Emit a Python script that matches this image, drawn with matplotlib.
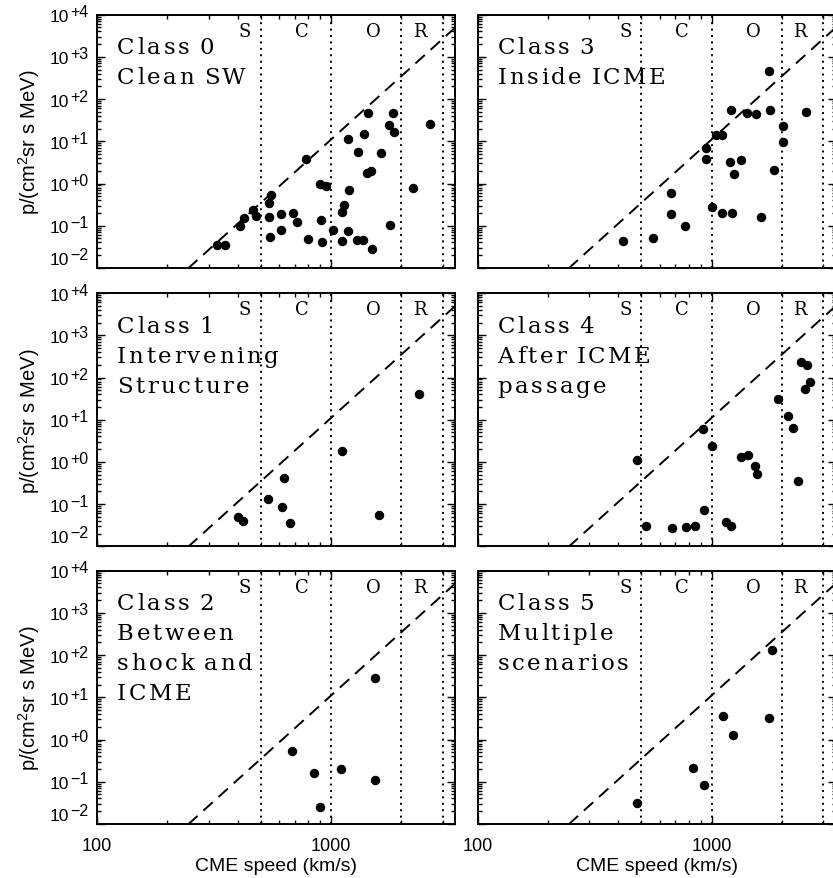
import numpy as np
import matplotlib
matplotlib.use("Agg")
import matplotlib.pyplot as plt
from matplotlib.ticker import FixedLocator, LogLocator, FuncFormatter, NullFormatter
from matplotlib.font_manager import FontProperties

plt.rcParams['font.family'] = 'Liberation Sans'
plt.rcParams['mathtext.fontset'] = 'custom'
plt.rcParams['mathtext.rm'] = 'Liberation Sans'
plt.rcParams['mathtext.it'] = 'Liberation Sans'
plt.rcParams['mathtext.default'] = 'regular'

# CME speed (km/s) and peak proton intensity, one pair of lists per class
v0 = [325, 351, 408, 426, 462, 478, 554, 545, 545, 548, 609, 613, 690, 718,
      782, 795, 898, 949, 906, 915, 1016, 1111, 1182, 1117, 1140, 1194, 1186,
      1309, 1295, 1374, 1496, 1384, 1421, 1487, 1443, 1636, 1771, 1836, 1859,
      1793, 2234, 2649]
p0 = [0.035, 0.035, 0.096, 0.151, 0.238, 0.169, 0.537, 0.347, 0.160, 0.054,
      0.080, 0.191, 0.20, 0.122, 3.82, 0.049, 0.98, 0.86, 0.133, 0.042, 0.077,
      0.043, 0.073, 0.21, 0.317, 0.72, 11.3, 5.5, 0.047, 0.046, 0.028, 14.9,
      1.78, 1.99, 46.7, 5.3, 24.3, 45.9, 16.3, 0.105, 0.774, 25.6]

v1 = [399, 422, 539, 628, 618, 669, 1118, 1599, 2372]
p1 = [0.050, 0.040, 0.132, 0.42, 0.087, 0.035, 1.84, 0.055, 40.0]

v2 = [681, 844, 900, 1100, 1546, 1542]
p2 = [0.525, 0.158, 0.025, 0.203, 28.2, 0.11]

v3 = [417, 560, 674, 668, 774, 945, 948, 1000, 1043, 1107, 1110, 1209, 1194,
      1249, 1221, 1343, 1415, 1546, 1630, 1752, 1775, 1846, 2017, 2017, 2522]
p3 = [0.043, 0.051, 0.61, 0.188, 0.096, 6.8, 3.9, 0.284, 13.9, 13.9, 0.20,
      55.8, 3.19, 1.66, 0.199, 3.67, 46.7, 44.2, 0.162, 459, 55, 2.06, 23,
      9.5, 48.5]

v4 = [479, 527, 676, 778, 846, 933, 924, 1003, 1155, 1206, 1343, 1429, 1541,
      1562, 1932, 2124, 2232, 2345, 2409, 2562, 2623, 2512]
p4 = [1.11, 0.030, 0.027, 0.0286, 0.031, 0.072, 6.0, 2.42, 0.037, 0.030, 1.28,
      1.43, 0.81, 0.52, 30.3, 12.2, 6.2, 0.345, 233, 198, 79.4, 52.3]

v5 = [478, 837, 933, 1116, 1235, 1762, 1821]
p5 = [0.031, 0.211, 0.084, 3.6, 1.3, 3.23, 130]

class_text = [
    ["Class 0", "Clean SW"],
    ["Class 1", "Intervening", "Structure"],
    ["Class 2", "Between", "shock and", "ICME"],
    ["Class 3", "Inside ICME"],
    ["Class 4", "After ICME", "passage"],
    ["Class 5", "Multiple", "scenarios"],
]

# speed bands: slow / common / occasional / rare
band_edges = [500, 1000, 2000, 3000]
band_names = ["S", "C", "O", "R"]
band_label_v = [429, 750, 1510, 2393]

# upper envelope p = norm * (v / 1000)^slope
env_norm = 11.0
env_slope = 5.0

xlim = (100, 3400)
ylim = (1e-2, 1e4)
y_decades = np.arange(-2, 5)

fig = plt.figure(figsize=(8.33, 8.79), dpi=100)
W, H = 833.0, 879.0
col_left = [97 / W, 477.5 / W]
row_top = [15.7, 294.1, 571.7]
ax_w = 358.4 / W
ax_h = 253.2 / H

serif = FontProperties(family='DejaVu Serif', size=16.5)
renderer = fig.canvas.get_renderer()


def tracked_text(ax, lines, x0, y0, track=1.9, lead=21.6):
    # serif label with extra letter spacing, one glyph at a time
    for k, line in enumerate(lines):
        dx = 0.0
        for ch in line:
            if ch == ' ':
                dx += 0.2 * serif.get_size_in_points() + track
                continue
            ax.annotate(ch, (x0, y0), xycoords='axes fraction',
                        xytext=(dx, -k * lead), textcoords='offset points',
                        fontproperties=serif, ha='left', va='baseline')
            w = renderer.get_text_width_height_descent(ch, serif, ismath=False)[0]
            dx += w * 72.0 / fig.dpi + track


def power_labels(ax):
    # "10" with a near full-size raised exponent, left of the y axis
    tr = ax.get_yaxis_transform()
    for e in y_decades:
        dy = -1.5 if e > y_decades[0] else 6.0
        exp = ('%+d' % e).replace('-', '\u2212')
        ax.annotate(exp, (0, 10.0 ** e), xycoords=tr, xytext=(-6.3, dy + 3.7),
                    textcoords='offset points', ha='right', va='center',
                    fontsize=11.5, annotation_clip=False)
        ax.annotate('10', (0, 10.0 ** e), xycoords=tr, xytext=(-20.3, dy),
                    textcoords='offset points', ha='right', va='center',
                    fontsize=12.5, annotation_clip=False)


data = [(v0, p0), (v1, p1), (v2, p2), (v3, p3), (v4, p4), (v5, p5)]
vv = np.logspace(np.log10(xlim[0]), np.log10(xlim[1]), 200)

for i, (v, p) in enumerate(data):
    col, row = i // 3, i % 3
    bottom = 1 - (row_top[row] + 253.2) / H
    ax = fig.add_axes([col_left[col], bottom, ax_w, ax_h])
    ax.set_xscale('log')
    ax.set_yscale('log')
    ax.set_xlim(*xlim)
    ax.set_ylim(*ylim)

    for b in band_edges:
        ax.axvline(b, color='black', lw=1.4, ls=(0, (1, 2.3)), zorder=1)
    for name, bv in zip(band_names, band_label_v):
        ax.text(bv, 0.917, name, transform=ax.get_xaxis_transform(),
                family='DejaVu Serif', fontsize=13, ha='center', va='baseline')

    ax.plot(vv, env_norm * (vv / 1000.0) ** env_slope, color='black', lw=1.4,
            dashes=(6.5, 4.0), zorder=2)
    ax.plot(v, p, 'o', color='black', ms=5.8, zorder=3)

    tracked_text(ax, class_text[i], 20 / 358.4, 1 - 38.5 / 253.2)

    ax.yaxis.set_major_locator(FixedLocator(10.0 ** y_decades))
    ax.yaxis.set_minor_locator(LogLocator(base=10, subs=np.arange(2, 10), numticks=50))
    ax.xaxis.set_major_locator(FixedLocator([100, 1000]))
    ax.xaxis.set_minor_locator(LogLocator(base=10, subs=np.arange(2, 10), numticks=50))
    ax.xaxis.set_minor_formatter(NullFormatter())
    ax.yaxis.set_minor_formatter(NullFormatter())
    ax.yaxis.set_major_formatter(NullFormatter())
    ax.tick_params(which='both', direction='in', top=True, right=True, width=1.0)
    ax.tick_params(which='major', length=5.5)
    ax.tick_params(which='minor', length=2.8)
    ax.tick_params(axis='x', labelsize=13, pad=9.6)
    for s in ax.spines.values():
        s.set_linewidth(1.4)

    if col == 0:
        power_labels(ax)
        ax.set_ylabel('p/(cm$^2$sr s MeV)', fontsize=14.5)
        ax.yaxis.set_label_coords(-0.154, 0.5)
    if row == 2:
        ax.xaxis.set_major_formatter(FuncFormatter(lambda x, pos: '%d' % x))
        ax.set_xlabel('CME speed (km/s)', fontsize=14, va='top')
        ax.xaxis.set_label_coords(0.5, -0.132)
    else:
        ax.xaxis.set_major_formatter(NullFormatter())

fig.savefig('out.png', dpi=100)
